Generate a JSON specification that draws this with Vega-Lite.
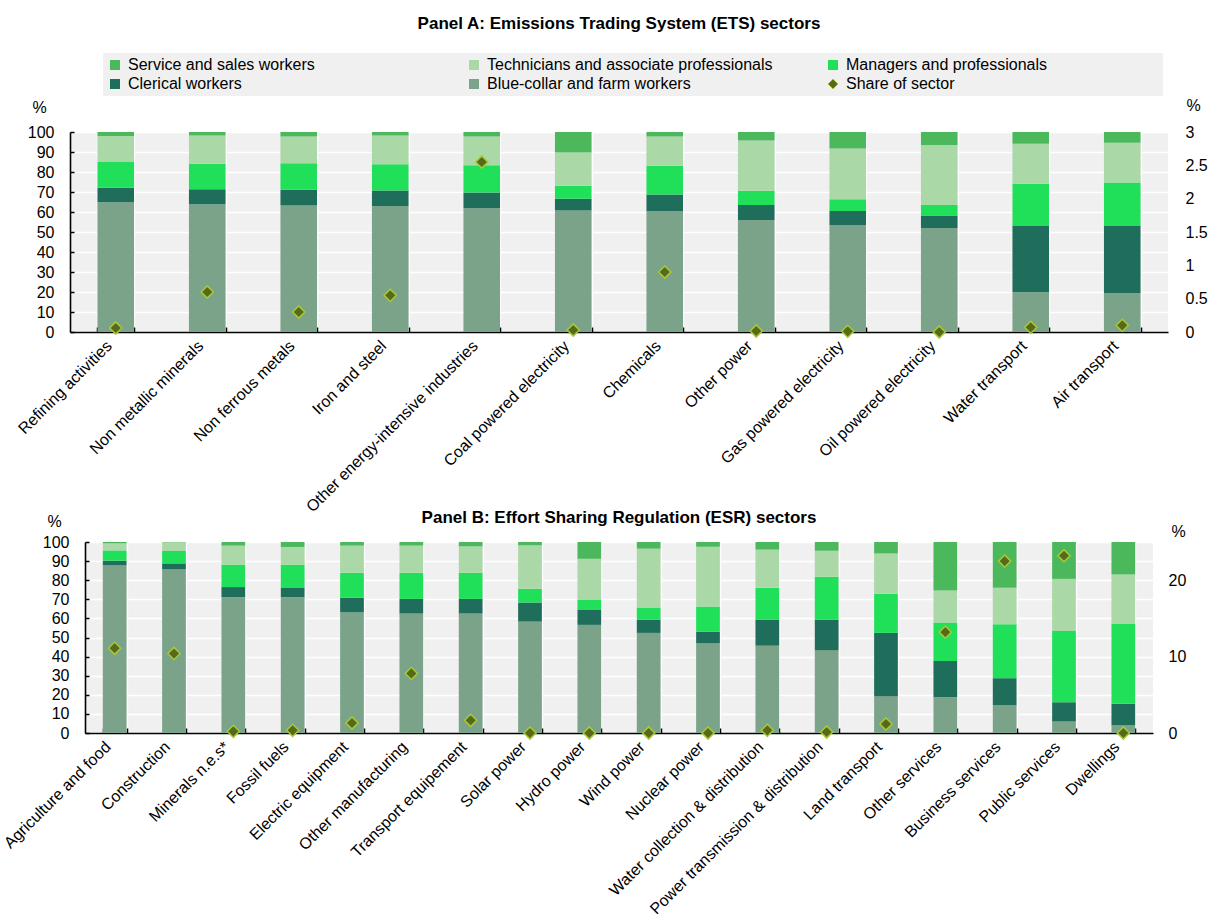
{
  "$schema": "https://vega.github.io/schema/vega-lite/v6.json",
  "padding": {"left": 0, "top": 15, "right": 5, "bottom": 5},
  "background": "white",
  "bounds": "flush",
  "center": true,
  "spacing": 210,
  "config": {
    "view": {"fill": "#f0f0f0", "stroke": null},
    "font": "Liberation Sans",
    "axis": {"labelFont": "Liberation Sans", "labelFontSize": 16, "labelColor": "#000000", "titleFont": "Liberation Sans", "titleFontSize": 16, "titleFontWeight": "normal", "titleColor": "#000000", "gridColor": "#ffffff", "gridWidth": 1.3, "domainColor": "#000000", "tickColor": "#000000", "domainWidth": 1.6, "tickWidth": 1.5},
    "title": {"font": "Liberation Sans", "fontSize": 17, "fontWeight": "bold", "color": "#000000", "anchor": "middle"}
  },
  "datasets": {
    "ets": [
      {"sector": "Refining activities", "a_blue": 64.9, "b_cler": 7.2, "c_mgr": 13.2, "d_tech": 12.7, "e_serv": 2.0, "share": 0.06},
      {"sector": "Non metallic minerals", "a_blue": 63.9, "b_cler": 7.5, "c_mgr": 12.7, "d_tech": 14.1, "e_serv": 1.8, "share": 0.6},
      {"sector": "Non ferrous metals", "a_blue": 63.2, "b_cler": 7.9, "c_mgr": 13.3, "d_tech": 13.4, "e_serv": 2.2, "share": 0.3},
      {"sector": "Iron and steel", "a_blue": 63.0, "b_cler": 7.7, "c_mgr": 13.2, "d_tech": 14.3, "e_serv": 1.8, "share": 0.55},
      {"sector": "Other energy-intensive industries", "a_blue": 61.9, "b_cler": 7.8, "c_mgr": 13.7, "d_tech": 14.4, "e_serv": 2.2, "share": 2.55},
      {"sector": "Coal powered electricity", "a_blue": 60.7, "b_cler": 5.9, "c_mgr": 6.5, "d_tech": 16.7, "e_serv": 10.2, "share": 0.03},
      {"sector": "Chemicals", "a_blue": 60.5, "b_cler": 8.2, "c_mgr": 14.4, "d_tech": 14.6, "e_serv": 2.3, "share": 0.9},
      {"sector": "Other power", "a_blue": 56.0, "b_cler": 7.5, "c_mgr": 7.1, "d_tech": 25.1, "e_serv": 4.3, "share": 0.015},
      {"sector": "Gas powered electricity", "a_blue": 53.5, "b_cler": 7.0, "c_mgr": 5.9, "d_tech": 25.4, "e_serv": 8.2, "share": 0.01},
      {"sector": "Oil powered electricity", "a_blue": 52.0, "b_cler": 6.2, "c_mgr": 5.3, "d_tech": 30.0, "e_serv": 6.5, "share": 0.0},
      {"sector": "Water transport", "a_blue": 19.9, "b_cler": 33.1, "c_mgr": 21.1, "d_tech": 20.0, "e_serv": 5.9, "share": 0.07},
      {"sector": "Air transport", "a_blue": 19.4, "b_cler": 33.6, "c_mgr": 21.7, "d_tech": 19.9, "e_serv": 5.4, "share": 0.1}
    ],
    "esr": [
      {"sector": "Agriculture and food", "a_blue": 87.8, "b_cler": 2.4, "c_mgr": 5.4, "d_tech": 3.7, "e_serv": 0.7, "share": 11.1},
      {"sector": "Construction", "a_blue": 85.7, "b_cler": 3.1, "c_mgr": 6.5, "d_tech": 4.5, "e_serv": 0.2, "share": 10.4},
      {"sector": "Minerals n.e.s*", "a_blue": 71.1, "b_cler": 5.3, "c_mgr": 11.7, "d_tech": 10.0, "e_serv": 1.9, "share": 0.22},
      {"sector": "Fossil fuels", "a_blue": 71.1, "b_cler": 5.1, "c_mgr": 11.9, "d_tech": 9.3, "e_serv": 2.6, "share": 0.35},
      {"sector": "Electric equipment", "a_blue": 63.2, "b_cler": 7.6, "c_mgr": 13.1, "d_tech": 14.2, "e_serv": 1.9, "share": 1.31},
      {"sector": "Other manufacturing", "a_blue": 62.5, "b_cler": 7.7, "c_mgr": 13.7, "d_tech": 14.2, "e_serv": 1.9, "share": 7.8},
      {"sector": "Transport equipement", "a_blue": 62.5, "b_cler": 7.7, "c_mgr": 13.7, "d_tech": 13.8, "e_serv": 2.3, "share": 1.66},
      {"sector": "Solar power", "a_blue": 58.3, "b_cler": 10.0, "c_mgr": 7.2, "d_tech": 22.7, "e_serv": 1.8, "share": 0.0},
      {"sector": "Hydro power", "a_blue": 56.6, "b_cler": 7.8, "c_mgr": 5.5, "d_tech": 21.3, "e_serv": 8.8, "share": 0.0},
      {"sector": "Wind power", "a_blue": 52.4, "b_cler": 7.0, "c_mgr": 6.3, "d_tech": 30.8, "e_serv": 3.5, "share": 0.0},
      {"sector": "Nuclear power", "a_blue": 47.1, "b_cler": 6.0, "c_mgr": 13.1, "d_tech": 31.3, "e_serv": 2.5, "share": 0.0},
      {"sector": "Water collection & distribution", "a_blue": 45.7, "b_cler": 13.7, "c_mgr": 16.6, "d_tech": 20.0, "e_serv": 4.0, "share": 0.35},
      {"sector": "Power transmission & distribution", "a_blue": 43.4, "b_cler": 16.0, "c_mgr": 22.4, "d_tech": 13.6, "e_serv": 4.6, "share": 0.13},
      {"sector": "Land transport", "a_blue": 19.3, "b_cler": 33.1, "c_mgr": 20.5, "d_tech": 21.1, "e_serv": 6.0, "share": 1.18},
      {"sector": "Other services", "a_blue": 18.7, "b_cler": 19.0, "c_mgr": 20.1, "d_tech": 16.8, "e_serv": 25.4, "share": 13.2},
      {"sector": "Business services", "a_blue": 14.5, "b_cler": 14.2, "c_mgr": 28.2, "d_tech": 19.1, "e_serv": 24.0, "share": 22.5},
      {"sector": "Public services", "a_blue": 6.0, "b_cler": 10.1, "c_mgr": 37.3, "d_tech": 27.3, "e_serv": 19.3, "share": 23.2},
      {"sector": "Dwellings", "a_blue": 4.0, "b_cler": 11.4, "c_mgr": 41.7, "d_tech": 25.9, "e_serv": 17.0, "share": 0.0}
    ]
  },
  "resolve": {"scale": {"color": "independent"}, "legend": {"color": "independent"}},
  "vconcat": [
    {
      "width": 1098,
      "height": 200,
      "title": {"text": "Panel A: Emissions Trading System (ETS) sectors", "offset": 20},
      "data": {"name": "ets"},
      "resolve": {"scale": {"y": "independent"}},
      "layer": [
        {
          "transform": [{"fold": ["a_blue", "b_cler", "c_mgr", "d_tech", "e_serv"], "as": ["occ", "pct"]}],
          "mark": {"type": "bar"},
          "encoding": {
            "x": {"field": "sector", "type": "nominal", "sort": null, "scale": {"paddingInner": 0.6, "paddingOuter": 0.3},
              "axis": {"title": null, "labelAngle": -45, "labelAlign": "right", "labelBaseline": "middle", "labelOffset": -7, "tickBand": "extent", "tickSize": -5, "labelPadding": 16, "grid": true, "labelLimit": 400}},
            "y": {"field": "pct", "type": "quantitative", "stack": "zero", "scale": {"domain": [0, 100], "nice": false},
              "axis": {"orient": "left", "values": [0, 10, 20, 30, 40, 50, 60, 70, 80, 90, 100], "tickSize": -4, "labelPadding": 20, "grid": true, "title": "%", "titleAngle": 0, "titleX": -31, "titleY": -25, "titleAlign": "center", "titleBaseline": "middle"}},
            "order": {"field": "occ", "type": "ordinal", "sort": "ascending"},
            "color": {"field": "occ", "type": "nominal",
              "scale": {"domain": ["e_serv", "d_tech", "c_mgr", "b_cler", "a_blue", "share"], "range": ["#4cb85c", "#aad8a6", "#20e05a", "#1f6e5b", "#7aa38a", "#586a1a"]},
              "legend": {"orient": "none", "legendX": 33, "legendY": -79, "direction": "horizontal", "columns": 3, "gridAlign": "all", "columnPadding": 52, "rowPadding": 3, "symbolSize": 100, "symbolType": "square", "labelFontSize": 16, "labelFont": "Liberation Sans", "labelColor": "#000000", "labelOffset": 5, "fillColor": "#f0f0f0", "padding": 4, "title": " ", "titleOrient": "right", "titlePadding": 112, "titleFontSize": 2, "labelLimit": 400,
                "labelExpr": "datum.value == 'e_serv' ? 'Service and sales workers' : datum.value == 'd_tech' ? 'Technicians and associate professionals' : datum.value == 'c_mgr' ? 'Managers and professionals' : datum.value == 'b_cler' ? 'Clerical workers' : datum.value == 'a_blue' ? 'Blue-collar and farm workers' : 'Share of sector'",
                "encode": {"symbols": {"update": {"shape": {"signal": "datum.value === 'share' ? 'diamond' : 'square'"}, "stroke": {"signal": "datum.value === 'share' ? '#a6c93a' : 'transparent'"}, "strokeWidth": {"value": 1}}}}}}
          }
        },
        {
          "mark": {"type": "point", "shape": "diamond", "filled": true, "size": 150, "stroke": "#a6c93a", "strokeWidth": 1.5, "opacity": 1},
          "encoding": {
            "x": {"field": "sector", "type": "nominal", "sort": null},
            "y": {"field": "share", "type": "quantitative", "scale": {"domain": [0, 3], "nice": false},
              "axis": {"orient": "right", "values": [0, 0.5, 1, 1.5, 2, 2.5, 3], "format": ".1~f", "domain": false, "ticks": false, "grid": false, "labelPadding": 17, "title": "%", "titleAngle": 0, "titleX": 25, "titleY": -27, "titleAlign": "center", "titleBaseline": "middle"}},
            "color": {"datum": "share", "type": "nominal"}
          }
        }
      ]
    },
    {
      "width": 1068,
      "height": 191,
      "title": {"text": "Panel B: Effort Sharing Regulation (ESR) sectors", "offset": -14},
      "data": {"name": "esr"},
      "resolve": {"scale": {"y": "independent"}},
      "layer": [
        {
          "transform": [{"fold": ["a_blue", "b_cler", "c_mgr", "d_tech", "e_serv"], "as": ["occ", "pct"]}],
          "mark": {"type": "bar"},
          "encoding": {
            "x": {"field": "sector", "type": "nominal", "sort": null, "scale": {"paddingInner": 0.6, "paddingOuter": 0.3},
              "axis": {"title": null, "labelAngle": -45, "labelAlign": "right", "labelBaseline": "middle", "labelOffset": -7, "tickBand": "extent", "tickSize": -5, "labelPadding": 16, "grid": true, "labelLimit": 400}},
            "y": {"field": "pct", "type": "quantitative", "stack": "zero", "scale": {"domain": [0, 100], "nice": false},
              "axis": {"orient": "left", "values": [0, 10, 20, 30, 40, 50, 60, 70, 80, 90, 100], "tickSize": -4, "labelPadding": 20, "grid": true, "title": "%", "titleAngle": 0, "titleX": -31, "titleY": -21, "titleAlign": "center", "titleBaseline": "middle"}},
            "order": {"field": "occ", "type": "ordinal", "sort": "ascending"},
            "color": {"field": "occ", "type": "nominal",
              "scale": {"domain": ["e_serv", "d_tech", "c_mgr", "b_cler", "a_blue", "share"], "range": ["#4cb85c", "#aad8a6", "#20e05a", "#1f6e5b", "#7aa38a", "#586a1a"]},
              "legend": null}
          }
        },
        {
          "mark": {"type": "point", "shape": "diamond", "filled": true, "size": 150, "stroke": "#a6c93a", "strokeWidth": 1.5, "opacity": 1},
          "encoding": {
            "x": {"field": "sector", "type": "nominal", "sort": null},
            "y": {"field": "share", "type": "quantitative", "scale": {"domain": [0, 25], "nice": false},
              "axis": {"orient": "right", "values": [0, 10, 20], "format": "d", "domain": false, "ticks": false, "grid": false, "labelPadding": 15, "title": "%", "titleAngle": 0, "titleX": 25, "titleY": -11, "titleAlign": "center", "titleBaseline": "middle"}},
            "color": {"datum": "share", "type": "nominal", "legend": null}
          }
        }
      ]
    }
  ]
}
